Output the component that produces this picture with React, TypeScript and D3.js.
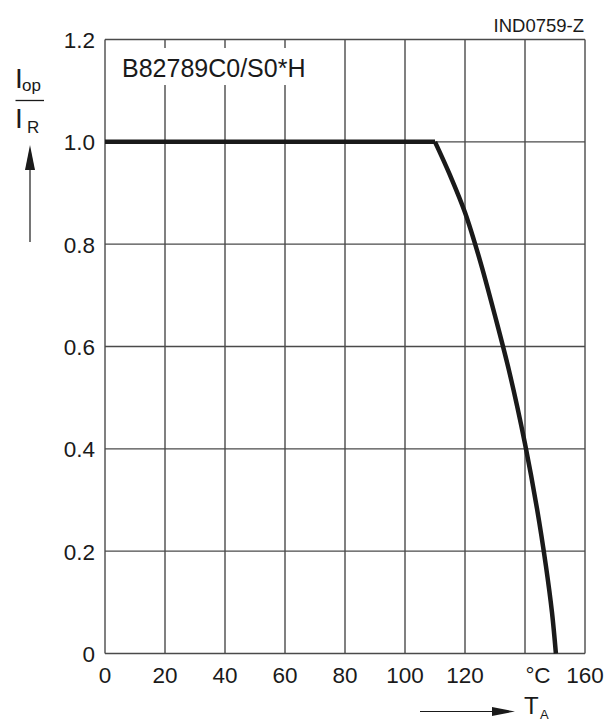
import * as d3 from 'd3';

// derating curve
const temps = [0, 110, 115, 120, 125, 130, 135, 140, 144, 147, 149, 150.3];
const ratios = [1, 1, 0.935, 0.862, 0.768, 0.66, 0.545, 0.41, 0.283, 0.17, 0.08, 0];

const xTicks = [0, 20, 40, 60, 80, 100, 120, 140, 160];
const xTickLabels = ['0', '20', '40', '60', '80', '100', '120', '°C', '160'];
const yTicks = [0, 0.2, 0.4, 0.6, 0.8, 1.0, 1.2];
const yTickLabels = ['0', '0.2', '0.4', '0.6', '0.8', '1.0', '1.2'];

const W = 616;
const H = 724;
const FONT = '"Liberation Sans", Arial, Helvetica, sans-serif';
const INK = '#1a1a1a';
const GRID = '#4a4a4a';

export default function App() {
  const x = d3.scaleLinear().domain([0, 160]).range([105, 585]);
  const y = d3.scaleLinear().domain([0, 1.2]).range([653.5, 39.5]);

  const pts: [number, number][] = temps.map((t, i) => [t, ratios[i]]);
  // flat part is straight, the knee is sharp, the fall-off is smooth
  const flat = d3
    .line<[number, number]>()
    .x((d) => x(d[0]))
    .y((d) => y(d[1]))(pts.slice(0, 2));
  const tail = d3
    .line<[number, number]>()
    .x((d) => x(d[0]))
    .y((d) => y(d[1]))
    .curve(d3.curveCatmullRom.alpha(0.5))(pts.slice(1));

  return (
    <svg
      width={W}
      height={H}
      style={{ position: 'absolute', left: 0, top: 0, background: '#fff' }}
      fontFamily={FONT}
    >
      <rect width={W} height={H} fill="#fff" />

      {/* grid */}
      {xTicks.map((t) => (
        <line key={'gx' + t} x1={x(t)} x2={x(t)} y1={y(0)} y2={y(1.2)} stroke={GRID} strokeWidth={1.4} />
      ))}
      {yTicks.map((t) => (
        <line key={'gy' + t} x1={x(0)} x2={x(160)} y1={y(t)} y2={y(t)} stroke={GRID} strokeWidth={1.4} />
      ))}

      {/* type label with white box over the grid */}
      <rect x={x(0) + 2} y={48} width={225} height={37} fill="#fff" />
      <text x={122} y={76.5} fontSize={25} fill={INK}>
        B82789C0/S0*H
      </text>

      {/* curve */}
      <path d={flat ?? ''} fill="none" stroke={INK} strokeWidth={4.5} />
      <path d={tail ?? ''} fill="none" stroke={INK} strokeWidth={4.5} />

      {/* y tick labels */}
      {yTicks.map((t, i) => (
        <text key={'yl' + t} x={95} y={y(t) + 8.5} fontSize={22.5} textAnchor="end" fill={INK}>
          {yTickLabels[i]}
        </text>
      ))}

      {/* x tick labels */}
      {xTicks.map((t, i) => (
        <text
          key={'xl' + t}
          x={x(t) + (xTickLabels[i] === '°C' ? 13 : 0)}
          y={683}
          fontSize={22.5}
          textAnchor="middle"
          fill={INK}
        >
          {xTickLabels[i]}
        </text>
      ))}

      {/* drawing number */}
      <text x={584} y={32} fontSize={18.5} textAnchor="end" fill={INK}>
        IND0759-Z
      </text>

      {/* y axis title: Iop / IR with arrow */}
      <text x={15} y={88} fontSize={28} fill={INK}>
        I
      </text>
      <text x={22} y={91} fontSize={17} fill={INK}>
        op
      </text>
      <line x1={15.5} x2={44} y1={100.5} y2={100.5} stroke={INK} strokeWidth={1.3} />
      <text x={15} y={128} fontSize={28} fill={INK}>
        I
      </text>
      <text x={27} y={133} fontSize={17} fill={INK}>
        R
      </text>
      <line x1={30} x2={30} y1={242} y2={165} stroke={INK} strokeWidth={1.2} />
      <path d="M30,145 L25,170 L35,170 Z" fill={INK} />

      {/* x axis title: T_A with arrow */}
      <line x1={420} x2={495} y1={711.5} y2={711.5} stroke={INK} strokeWidth={1.2} />
      <path d="M515,711.5 L492,707 L492,716 Z" fill={INK} />
      <text x={524} y={714} fontSize={24} fill={INK}>
        T
      </text>
      <text x={540} y={719} fontSize={13} fill={INK}>
        A
      </text>
    </svg>
  );
}
